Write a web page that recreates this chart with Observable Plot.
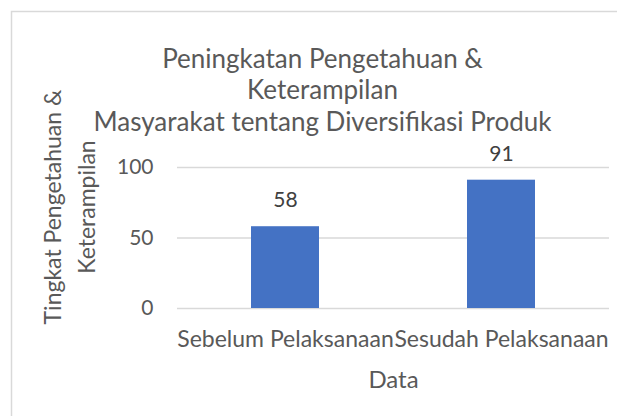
<!DOCTYPE html>
<html>
<head>
<meta charset="utf-8">
<script src="https://cdn.jsdelivr.net/npm/d3@7"></script>
<script src="https://cdn.jsdelivr.net/npm/@observablehq/plot@0.6"></script>
<style>
  html, body { margin: 0; padding: 0; background: #fff; }
  svg { display: block; }
</style>
</head>
<body>
<div id="chart"></div>
<script>
const categories = ["Sebelum Pelaksanaan", "Sesudah Pelaksanaan"];
const values = [58, 91];
const yTicks = [0, 50, 100];
const titleLines = ["Peningkatan Pengetahuan &", "Keterampilan", "Masyarakat tentang Diversifikasi Produk"];
const yTitle = "Tingkat Pengetahuan &\nKeterampilan";
const xTitle = "Data";

const data = categories.map((c, i) => ({category: c, value: values[i]}));
const FONT = "Lato, 'Open Sans', sans-serif";
const TEXT = "#595959";

const W = 617, H = 416;
const chart = Plot.plot({
  width: W,
  height: H,
  marginLeft: 177,
  marginRight: 8,
  marginTop: 167,
  marginBottom: 108,
  style: {fontFamily: FONT, fontSize: "20px", color: TEXT, background: "#fff", overflow: "visible"},
  x: {domain: categories, paddingInner: 0.684, paddingOuter: 0.342, label: null},
  y: {domain: [0, 100], label: null},
  marks: [
    Plot.gridY(yTicks, {stroke: "#D9D9D9", strokeOpacity: 1, strokeWidth: 1.3}),
    Plot.barY(data, {x: "category", y: "value", fill: "#4472C4"}),
    Plot.text(data, {x: "category", y: "value", text: d => String(d.value), dy: -26, fill: "#404040", fontSize: 21}),
    Plot.axisY(yTicks, {tickSize: 0, tickPadding: 24, fontSize: 21, fill: TEXT, label: null}),
    Plot.axisX({tickSize: 0, tickPadding: 22, fontSize: 23, fill: TEXT, label: null}),
    Plot.text([xTitle], {frameAnchor: "bottom", lineAnchor: "top", dy: 62, fontSize: 24, fill: TEXT}),
    Plot.text([yTitle], {frameAnchor: "left", textAnchor: "middle", lineAnchor: "middle", rotate: -90, dx: -110, dy: -31, lineHeight: 1.48, fontSize: 23, fill: TEXT}),
    Plot.text([titleLines.join("\n")], {frameAnchor: "top", textAnchor: "middle", lineAnchor: "top", dx: -71, dy: -122, lineHeight: 1.21, fontSize: 26, fill: TEXT})
  ]
});

// chart area border
d3.select(chart).insert("rect", ":first-child")
  .attr("x", 11.5).attr("y", 11.5).attr("width", W).attr("height", H)
  .attr("fill", "none").attr("stroke", "#D9D9D9").attr("stroke-width", 1.5);

document.getElementById("chart").append(chart);
</script>
</body>
</html>
